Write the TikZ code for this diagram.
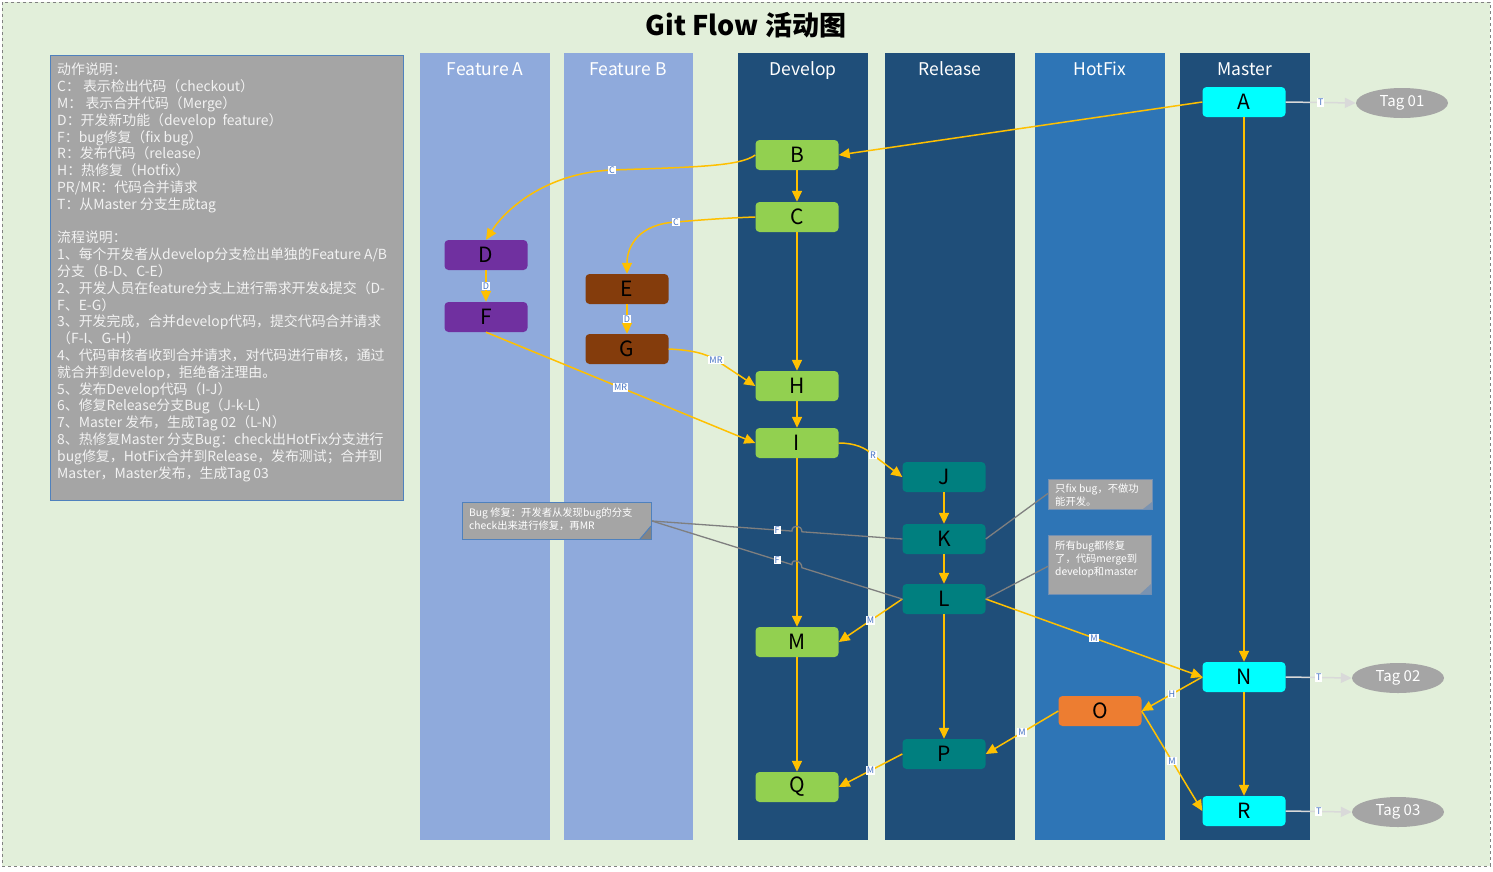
\documentclass[tikz,border=0pt]{standalone}
\usepackage{fontspec}
\setmainfont{Noto Sans CJK SC}
\usetikzlibrary{arrows.meta,calc,shapes.geometric}
\definecolor{bg}{HTML}{E2EFDA}
\definecolor{lanelight}{HTML}{8FAADC}
\definecolor{lanedark}{HTML}{1F4E79}
\definecolor{lanehot}{HTML}{2E75B6}
\definecolor{cgreen}{HTML}{92D050}
\definecolor{cpurple}{HTML}{7030A0}
\definecolor{cbrown}{HTML}{843C0C}
\definecolor{cteal}{HTML}{007F7F}
\definecolor{ccyan}{HTML}{00FFFF}
\definecolor{corange}{HTML}{ED7D31}
\definecolor{flowc}{HTML}{FFC000}
\definecolor{notegray}{HTML}{A5A5A5}
\definecolor{boxborder}{HTML}{4F81BD}
\definecolor{lblblue}{HTML}{4472C4}
\definecolor{tagline}{HTML}{D9D9D9}
\definecolor{noteline}{HTML}{7F7F7F}
\definecolor{txtlight}{HTML}{F2F2F2}
\begin{document}
\begin{tikzpicture}[x=1pt,y=-1pt,
  commit/.style={rounded corners=4pt, minimum width=83pt, minimum height=30pt, inner sep=0pt, font=\fontsize{21}{24}\selectfont, text=black},
  flow/.style={draw=flowc, line width=1.5pt, -{Triangle[length=11pt,width=10pt]}},
  lbl/.style={fill=white, text=lblblue, font=\fontsize{9}{10}\selectfont, inner sep=1pt},
  tagshape/.style={ellipse, fill=notegray, text=white, minimum width=92pt, minimum height=30pt, inner sep=0pt, font=\fontsize{15}{18}\selectfont},
  tagflow/.style={draw=tagline, line width=1.5pt, -{Triangle[length=11pt,width=10pt]}},
  lanehead/.style={text=white, anchor=base, font=\fontsize{17.5}{20}\selectfont},
  notebox/.style={fill=notegray, draw=boxborder!60!notegray, line width=0.6pt, inner sep=0pt},
  notetext/.style={text=white, align=left, inner sep=0pt, font=\fontsize{10.3}{13}\selectfont},
  noteln/.style={draw=noteline, line width=1.3pt},
]
\useasboundingbox (0,0) rectangle (1493,871);
\fill[white] (0,0) rectangle (1493,871);
\fill[bg] (2,2) rectangle (1490,866);
\draw[gray, dashed, line width=0.6pt] (2,2) rectangle (1490,866);

% title
\node[font=\fontsize{27}{30}\selectfont\bfseries, text=black] (title) at (746,25) {Git Flow 活动图};

% legend box
\node[fill=notegray, draw=boxborder, line width=1pt, minimum width=353pt, minimum height=445pt, anchor=north west, inner sep=0pt] (legend) at (50,55) {};
\node[anchor=north west, align=left, inner sep=0pt, text=txtlight, font=\fontsize{13.9}{16.8}\selectfont] (legendtext) at (57,63) {%
动作说明：\\
C：\ 表示检出代码（checkout）\\
M：\ 表示合并代码（Merge）\\
D：开发新功能（develop\ \ feature）\\
F：bug修复（fix bug）\\
R：发布代码（release）\\
H：热修复（Hotfix）\\
PR/MR：代码合并请求\\
T：从Master 分支生成tag\\[16.8pt]
流程说明：\\
1、每个开发者从develop分支检出单独的Feature A/B\\
分支（B-D、C-E）\\
2、开发人员在feature分支上进行需求开发\&提交（D-\\
F、E-G）\\
3、开发完成，合并develop代码，提交代码合并请求\\
（F-I、G-H）\\
4、代码审核者收到合并请求，对代码进行审核，通过\\
就合并到develop，拒绝备注理由。\\
5、发布Develop代码（I-J）\\
6、修复Release分支Bug（J-k-L）\\
7、Master 发布，生成Tag 02（L-N）\\
8、热修复Master 分支Bug：check出HotFix分支进行\\
bug修复，HotFix合并到Release，发布测试；合并到\\
Master，Master发布，生成Tag 03};

% lanes
\fill[lanelight] (420,53) rectangle (550,840);
\fill[lanelight] (564,53) rectangle (693,840);
\fill[lanedark] (738,53) rectangle (868,840);
\fill[lanedark] (885,53) rectangle (1015,840);
\fill[lanehot] (1035,53) rectangle (1165,840);
\fill[lanedark] (1180,53) rectangle (1310,840);
\node[lanehead] (hFA) at (485,75) {Feature A};
\node[lanehead] (hFB) at (628,75) {Feature B};
\node[lanehead] (hDev) at (803,75) {Develop};
\node[lanehead] (hRel) at (950,75) {Release};
\node[lanehead] (hHot) at (1100,75) {HotFix};
\node[lanehead] (hMas) at (1245,75) {Master};

% commits
\node[commit, fill=ccyan] (A) at (1244,102) {A};
\node[commit, fill=cgreen] (B) at (797,155) {B};
\node[commit, fill=cgreen] (C) at (797,217) {C};
\node[commit, fill=cpurple] (D) at (486,255) {D};
\node[commit, fill=cpurple] (F) at (486,317) {F};
\node[commit, fill=cbrown] (E) at (627,289) {E};
\node[commit, fill=cbrown] (G) at (627,349) {G};
\node[commit, fill=cgreen] (H) at (797,386) {H};
\node[commit, fill=cgreen] (I) at (797,443) {I};
\node[commit, fill=cteal] (J) at (944,477) {J};
\node[commit, fill=cteal] (K) at (944,539) {K};
\node[commit, fill=cteal] (L) at (944,599) {L};
\node[commit, fill=cgreen] (M) at (797,642) {M};
\node[commit, fill=ccyan] (N) at (1244,677) {N};
\node[commit, fill=corange] (O) at (1100,711) {O};
\node[commit, fill=cteal] (P) at (944,754) {P};
\node[commit, fill=cgreen] (Q) at (797,787) {Q};
\node[commit, fill=ccyan] (R) at (1244,811) {R};

% tags
\node[tagshape] (T1) at (1402,103) {Tag 01};
\node[tagshape] (T2) at (1398,678) {Tag 02};
\node[tagshape] (T3) at (1398,812) {Tag 03};
\draw[tagflow] (A.east) -- node[lbl]{T} (T1.west);
\draw[tagflow] (N.east) -- node[lbl]{T} (T2.west);
\draw[tagflow] (R.east) -- node[lbl]{T} (T3.west);

% notes
\node[notebox, minimum width=189pt, minimum height=37pt, anchor=north west, draw=boxborder, line width=1pt] (bn) at (462,502) {};
\node[notetext, anchor=north west] (bnt) at (469,508) {Bug 修复：开发者从发现bug的分支\\check出来进行修复，再MR};
\fill[notegray!80!black] (651,526) -- (640,539) -- (651,539) -- cycle;
\draw[boxborder, line width=1pt] (651,526) -- (640,539);

\node[notebox, minimum width=104pt, minimum height=30pt, anchor=north west] (n1) at (1048,479) {};
\node[notetext, anchor=north west] (n1t) at (1055,484) {只fix bug，不做功\\能开发。};
\fill[boxborder!50!notegray] (1152,502) -- (1143,509) -- (1152,509) -- cycle;

\node[notebox, minimum width=103pt, minimum height=59pt, anchor=north west] (n2) at (1048,535) {};
\node[notetext, anchor=north west] (n2t) at (1055,541) {所有bug都修复\\了，代码merge到\\develop和master};
\fill[boxborder!50!notegray] (1151,584) -- (1140,594) -- (1151,594) -- cycle;

% flows
\draw[flow] (A.west) -- (B.east);
\draw[flow] (B) -- (C);
\draw[flow] (B.west) .. controls (740,166) and (700,167) .. (612,170) node[lbl]{C} .. controls (545,173) and (505,210) .. (D.north);
\draw[flow] (C.west) .. controls (725,218) and (700,220) .. (676,222) node[lbl]{C} .. controls (640,224) and (627,245) .. (E.north);
\draw[flow] (D) -- node[lbl]{D} (F);
\draw[flow] (E) -- node[lbl]{D} (G);
\draw[flow] (C) -- (H);
\draw[flow] (G.east) .. controls (690,350) and (705,353) .. (716,360) node[lbl]{MR} -- (H.west);
\draw[flow] (F.south) -- node[lbl]{MR} (I.west);
\draw[flow] (H) -- (I);
\draw[flow] (I.east) .. controls (855,443) and (866,448) .. (873,455) node[lbl]{R} -- (J.west);
\draw[flow] (J) -- (K);
\draw[flow] (K) -- (L);
\draw[flow] (I) -- (M);
\draw[flow] (L.west) -- node[lbl]{M} (M.east);
\draw[flow] (L) -- (P);
\draw[flow] (L.east) -- node[lbl]{M} (N.west);
\draw[flow] (A) -- (N);
\draw[flow] (N.west) -- node[lbl]{H} (O.east);
\draw[flow] (O.west) -- node[lbl]{M} (P.east);
\draw[flow] (O.east) -- node[lbl]{M} (R.west);
\draw[flow] (N) -- (R);
\draw[flow] (P.west) -- node[lbl]{M} (Q.east);
\draw[flow] (M) -- (Q);

% note connectors (with hops over develop line)
\draw[noteln] (bn.east) -- ($(bn.east)!0.559!(K.west)$) .. controls +(0,-7) and +(0,-7) .. ($(bn.east)!0.599!(K.west)$) -- (K.west);
\path (bn.east) -- node[lbl, pos=0.5]{F} (K.west);
\draw[noteln] (bn.east) -- ($(bn.east)!0.559!(L.west)$) .. controls +(0,-7) and +(0,-7) .. ($(bn.east)!0.599!(L.west)$) -- (L.west);
\path (bn.east) -- node[lbl, pos=0.5]{F} (L.west);
\draw[noteln] (K.east) -- ($(n1.north west)!0.47!(n1.south west)$);
\draw[noteln] (L.east) -- ($(n2.north west)!0.525!(n2.south west)$);
\end{tikzpicture}
\end{document}
